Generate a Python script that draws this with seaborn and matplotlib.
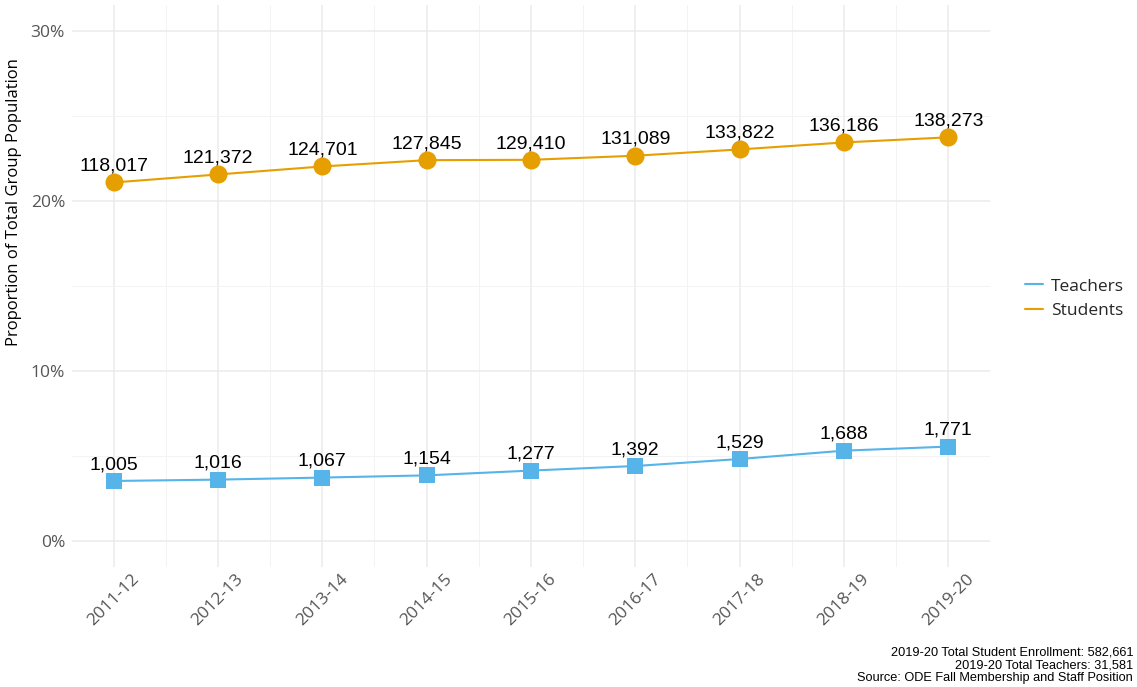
import numpy as np
import pandas as pd
import seaborn as sns
import matplotlib.pyplot as plt
from matplotlib.lines import Line2D
from matplotlib.ticker import PercentFormatter

years = ["2011-12", "2012-13", "2013-14", "2014-15", "2015-16",
         "2016-17", "2017-18", "2018-19", "2019-20"]

# share of each group's total population (percent)
teacher_pct = [3.55, 3.63, 3.75, 3.88, 4.16, 4.43, 4.84, 5.33, 5.57]
student_pct = [21.08, 21.55, 22.02, 22.39, 22.41, 22.65, 23.02, 23.43, 23.73]

# point labels (counts)
teacher_counts = [1005, 1016, 1067, 1154, 1277, 1392, 1529, 1688, 1771]
student_counts = [118017, 121372, 124701, 127845, 129410, 131089, 133822, 136186, 138273]

groups = ["Teachers", "Students"]
group_colors = {"Teachers": "#56B4E9", "Students": "#E69F00"}
group_markers = {"Teachers": "s", "Students": "o"}

footnote = ("2019-20 Total Student Enrollment: 582,661\n"
            "2019-20 Total Teachers: 31,581\n"
            "Source: ODE Fall Membership and Staff Position")

df = pd.concat([
    pd.DataFrame({"year": years, "pct": teacher_pct, "count": teacher_counts, "group": "Teachers"}),
    pd.DataFrame({"year": years, "pct": student_pct, "count": student_counts, "group": "Students"}),
], ignore_index=True)

sns.set_theme(style="white")
plt.rcParams["font.family"] = ["Open Sans", "DejaVu Sans"]
arial = ["Liberation Sans", "DejaVu Sans"]

fig = plt.figure(figsize=(11.37, 6.87), dpi=100)
ax = fig.add_axes([0.0633, 0.1747, 0.8074, 0.818])

for g in groups:
    sub = df[df["group"] == g]
    sns.lineplot(data=sub, x="year", y="pct", color=group_colors[g], lw=1.5,
                 marker=group_markers[g], markersize=13 if g == "Students" else 11,
                 markeredgewidth=0, sort=False, ax=ax)
    for xi, (v, c) in enumerate(zip(sub["pct"], sub["count"])):
        ax.annotate(f"{c:,}", (xi, v), xytext=(0, 8.5), textcoords="offset points",
                    ha="center", va="baseline", fontsize=14, color="black",
                    family=arial)

ax.set_xlim(-0.4, 8.4)
ax.set_ylim(-1.5, 31.5)
ax.set_yticks([0, 10, 20, 30])
ax.set_yticks([5, 15, 25], minor=True)
ax.set_xticks(np.arange(0.5, 8, 1), minor=True)
ax.yaxis.set_major_formatter(PercentFormatter(decimals=0))

ax.grid(which="major", color="#EBEBEB", lw=1.1)
ax.grid(which="minor", color="#F3F3F3", lw=0.7)
ax.set_axisbelow(True)
for s in ax.spines.values():
    s.set_visible(False)
ax.tick_params(which="both", length=0)
ax.tick_params(axis="y", labelsize=12.5, labelcolor="#555555", pad=5)
ax.tick_params(axis="x", labelsize=12.5, labelcolor="#555555", pad=3)
plt.setp(ax.get_xticklabels(), rotation=45, ha="center")

ax.set_xlabel("")
ax.set_ylabel("Proportion of Total Group Population", fontsize=12, color="black")
ax.yaxis.set_label_coords(-0.054, 0.65)

handles = [Line2D([], [], color=group_colors[g], lw=1.5) for g in groups]
fig.legend(handles, groups, loc="center left", bbox_to_anchor=(0.888, 0.565),
           frameon=False, fontsize=12.5, handlelength=1.0, handletextpad=0.5,
           labelspacing=0.5)

fig.text(0.9965, 0.004, footnote, ha="right", va="bottom", fontsize=9.2,
         linespacing=1.1, color="black", family=arial)

fig.savefig("out.png", dpi=100)
